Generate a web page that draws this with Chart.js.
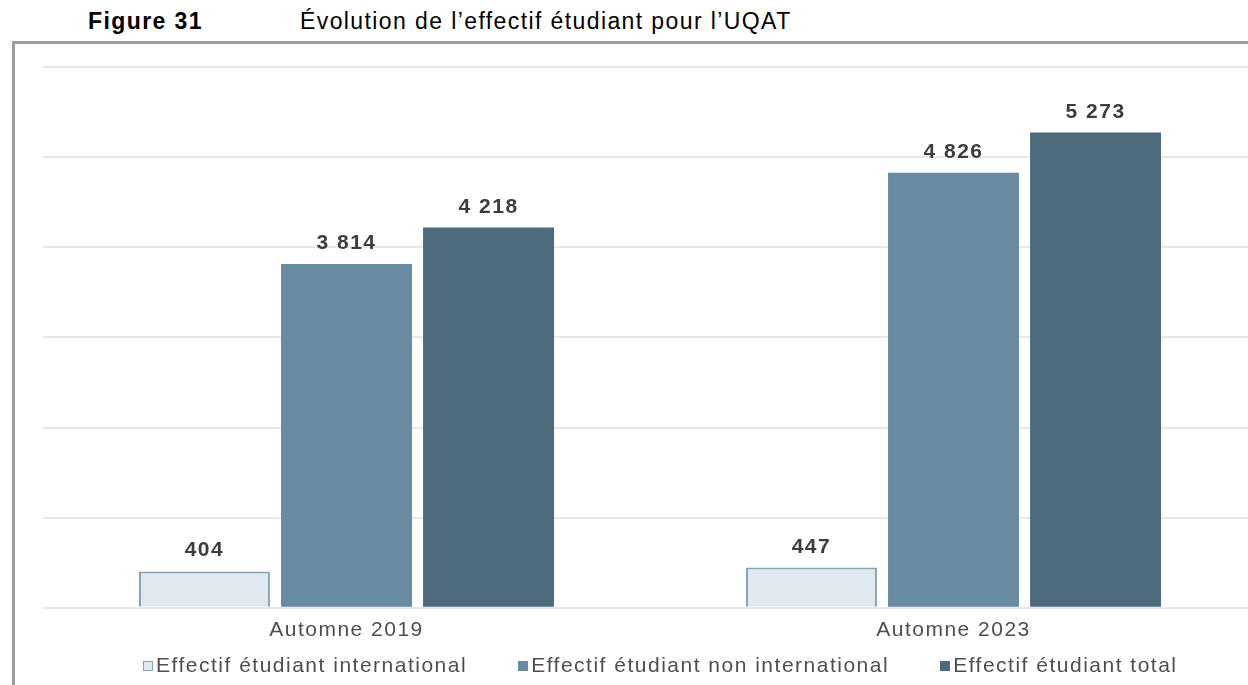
<!DOCTYPE html>
<html lang="fr">
<head>
<meta charset="utf-8">
<title>Figure 31</title>
<script src="https://cdn.jsdelivr.net/npm/chart.js@4.4.1/dist/chart.umd.min.js"></script>
<style>
    html, body { margin: 0; padding: 0; width: 1248px; height: 685px; overflow: hidden; background: #fff; }
    body { position: relative; font-family: "Liberation Sans", Arial, sans-serif; }
    .fig-title { position: absolute; top: 10px; font-size: 23px; line-height: 23px; letter-spacing: 1.4px; color: #000; white-space: nowrap; }
    .fig-num { left: 88px; font-weight: bold; }
    .fig-text { left: 300px; }
    .frame { position: absolute; left: 12px; top: 41px; width: 1300px; height: 700px; border-top: 3px solid #9d9d9d; border-left: 3px solid #9d9d9d; }
    .chart-box { position: absolute; left: 43px; top: 50px; width: 1214px; height: 611px; }
    .legend { position: absolute; left: 143px; top: 654px; display: flex; gap: 51px; white-space: nowrap;
              font-size: 21px; line-height: 21px; letter-spacing: 1.5px; color: #4e4e4e; }
    .legend span.item { display: inline-flex; align-items: center; }
    .legend span.swatch { width: 10px; height: 10px; margin-right: 3px; margin-top: 3px; box-sizing: border-box; }
</style>
</head>
<body>
<div class="fig-title fig-num">Figure 31</div>
<div class="fig-title fig-text">Évolution de l’effectif étudiant pour l’UQAT</div>
<div class="frame"></div>
<div class="chart-box"><canvas id="uqatChart"></canvas></div>
<div class="legend" id="uqatLegend"></div>

<script>
const categories = ['Automne 2019', 'Automne 2023'];
const seriesNames = ['Effectif étudiant international', 'Effectif étudiant non international', 'Effectif étudiant total'];
const international = [404, 447];
const nonInternational = [3814, 4826];
const total = [4218, 5273];
const yTicks = [0, 1000, 2000, 3000, 4000, 5000, 6000];

const fills = ['#e1e9f0', '#688ba2', '#4e6b7e'];
const borders = ['#86a2b5', '#688ba2', '#4e6b7e'];
const font = '"Liberation Sans", Arial, sans-serif';

// nombres avec espace comme séparateur de milliers
const fmt = v => String(v).replace(/\B(?=(\d{3})+(?!\d))/g, ' ');

const valueLabels = {
    id: 'valueLabels',
    afterDatasetsDraw(chart) {
        const ctx = chart.ctx;
        ctx.save();
        ctx.font = 'bold 21px ' + font;
        ctx.fillStyle = '#3d3d3d';
        ctx.textAlign = 'center';
        ctx.textBaseline = 'alphabetic';
        chart.data.datasets.forEach((ds, i) => {
            chart.getDatasetMeta(i).data.forEach((bar, j) => {
                ctx.fillText(fmt(ds.data[j]), bar.x, bar.y - 15);
            });
        });
        ctx.restore();
    }
};

const spacing = {
    id: 'spacing',
    beforeLayout(chart) { chart.ctx.letterSpacing = '1.5px'; },
    beforeDraw(chart) { chart.ctx.letterSpacing = '1.5px'; }
};

const seriesData = [international, nonInternational, total];

const chart = new Chart(document.getElementById('uqatChart'), {
    type: 'bar',
    data: {
        labels: categories,
        datasets: seriesNames.map((name, i) => ({
            label: name,
            data: seriesData[i],
            backgroundColor: fills[i],
            borderColor: borders[i],
            borderWidth: i === 0 ? 2 : 0,
            categoryPercentage: 0.702,
            barPercentage: 0.922
        }))
    },
    options: {
        responsive: true,
        maintainAspectRatio: false,
        animation: false,
        layout: { padding: { top: 17, bottom: 8, left: 0, right: 0 } },
        plugins: {
            legend: { display: false },
            tooltip: { enabled: false }
        },
        scales: {
            x: {
                grid: { display: false, drawTicks: false },
                border: { display: false },
                ticks: {
                    color: '#4e4e4e',
                    padding: 10,
                    maxRotation: 0,
                    autoSkip: false,
                    font: { family: font, size: 21 }
                }
            },
            y: {
                min: yTicks[0],
                max: yTicks[yTicks.length - 1],
                afterBuildTicks: axis => { axis.ticks = yTicks.map(v => ({ value: v })); },
                grid: { color: '#e8e8e8', lineWidth: 2, drawTicks: false },
                border: { display: false },
                ticks: { display: false }
            }
        }
    },
    plugins: [valueLabels, spacing]
});

// légende HTML à partir des séries
const legendEl = document.getElementById('uqatLegend');
seriesNames.forEach((name, i) => {
    const item = document.createElement('span');
    item.className = 'item';
    const sw = document.createElement('span');
    sw.className = 'swatch';
    sw.style.background = fills[i];
    sw.style.border = '1.5px solid ' + borders[i];
    item.appendChild(sw);
    item.appendChild(document.createTextNode(name));
    legendEl.appendChild(item);
});
</script>
</body>
</html>
